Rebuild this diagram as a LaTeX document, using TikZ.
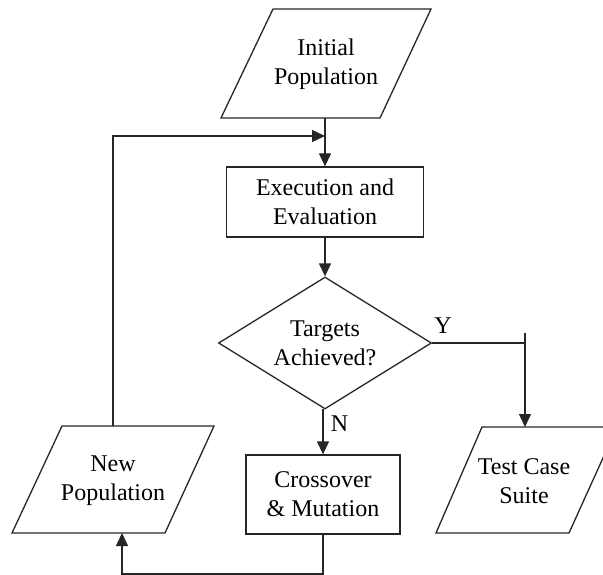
\documentclass[tikz,border=0pt]{standalone}
\usepackage{fontspec}
\setmainfont{Liberation Serif}
\usetikzlibrary{arrows.meta,shapes.geometric}

\tikzset{
  flow/.style={line width=1.3pt, draw=black!85},
  arrowline/.style={flow, -{Triangle[length=13pt,width=12pt]}},
  boxtext/.style={font=\fontsize{24}{29}\selectfont, align=center, inner sep=0pt, text=black},
  procbox/.style={flow, rectangle, boxtext},
  iobox/.style={flow},
  decision/.style={flow, diamond, boxtext, aspect=1.6, minimum width=213pt, minimum height=132pt},
  branchtag/.style={font=\fontsize{24}{29}\selectfont, inner sep=0pt, text=black}
}

\begin{document}
\begin{tikzpicture}[x=1pt, y=-1pt]
  \useasboundingbox (0,0) rectangle (603,575);
  \clip (0,0) rectangle (603,575);

  % input / output parallelograms
  \draw[iobox] (273,9) -- (431,9) -- (380,118) -- (221,118) -- cycle;
  \node[boxtext] (init) at (326,64) {Initial\\Population};
  \coordinate (initbot) at (325,118);

  \draw[iobox] (62,426) -- (214,426) -- (165,533) -- (12,533) -- cycle;
  \node[boxtext] (newpop) at (113,481) {New\\Population};
  \coordinate (newtop) at (113,426);
  \coordinate (newbot) at (122,533);

  \draw[iobox] (482,427) -- (617,427) -- (569,533) -- (436,533) -- cycle;
  \node[boxtext] (suite) at (524,481) {Test Case\\Suite};
  \coordinate (suitetop) at (525,427);

  % process boxes and decision
  \node[procbox, draw, minimum width=197pt, minimum height=70pt] (exec) at (325,202) {Execution and\\Evaluation};
  \node[decision] (targets) at (325,343) {Targets\\Achieved?};
  \node[procbox, draw, minimum width=154pt, minimum height=79pt] (cross) at (323,494.5) {Crossover\\\& Mutation};

  % connectors
  \coordinate (merge) at (325,136);
  \draw[arrowline] (initbot) -- (exec.north);
  \draw[arrowline] (newtop) |- (merge);
  \draw[arrowline] (exec.south) -- (targets.north);

  \coordinate (ycorner) at (525,343);
  \coordinate (ystub) at (525,333);
  \draw[flow] (targets.east) -- (ycorner);
  \draw[arrowline] (ystub) -- (suitetop);
  \node[branchtag] (ytag) at (443,326) {Y};

  \coordinate (nstart) at (323,409);
  \draw[arrowline] (nstart) -- (cross.north);
  \node[branchtag] (ntag) at (339.5,424) {N};

  \coordinate (crossdown) at (323,574);
  \draw[arrowline] (cross.south) -- (crossdown) -| (newbot);
\end{tikzpicture}
\end{document}
